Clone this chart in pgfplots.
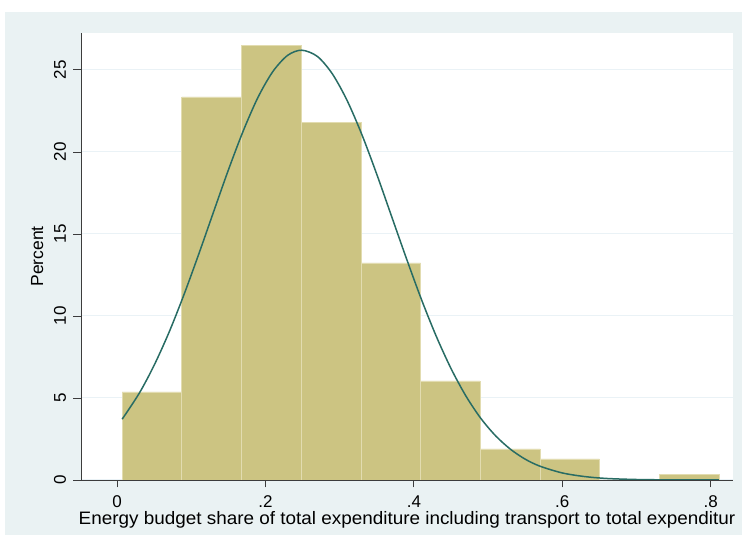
\documentclass[border=0pt]{standalone}
\usepackage{pgfplots}
\pgfplotsset{compat=1.18}
\usepackage{fontspec}
\setmainfont{Liberation Sans}
\definecolor{bgc}{RGB}{234,242,243}
\definecolor{barc}{RGB}{204,196,130}
\definecolor{baredge}{RGB}{226,220,176}
\definecolor{curvec}{RGB}{40,108,100}
\definecolor{gridc}{RGB}{234,242,246}
\definecolor{axc}{RGB}{60,60,60}
\begin{document}
\begin{tikzpicture}
\useasboundingbox (0pt,0pt) rectangle (742pt,545pt);
\fill[bgc] (5pt,10pt) rectangle (742pt,533pt);
\begin{axis}[
  at={(81pt,65pt)}, anchor=south west,
  scale only axis, width=652pt, height=447pt,
  xmin=-0.0485, xmax=0.830, ymin=0, ymax=27.25,
  axis x line*=bottom, axis y line*=left,
  axis line style={axc, line width=0.8pt, -},
  tick align=outside, major tick length=7.5pt,
  tick style={axc, line width=0.8pt},
  xtick={0,0.2,0.4,0.6,0.8}, xticklabels={0,.2,.4,.6,.8},
  ytick={0,5,10,15,20,25}, yticklabels={0,5,10,15,20,25},
  ticklabel style={font=\fontsize{17}{17}\selectfont, text=black},
  yticklabel style={rotate=90, anchor=south},
  yticklabel shift=4pt, xticklabel shift=5pt,
  axis background/.style={fill=white},
  ymajorgrids, grid style={gridc, line width=1pt},
  xlabel={Energy budget share of total expenditure including transport to total expenditur},
  ylabel={Percent},
  every axis x label/.style={at={(axis description cs:0.5,0)}, anchor=center, yshift=-40pt, font=\fontsize{18}{18}\selectfont, xscale=1.05},
  every axis y label/.style={at={(axis description cs:-0.067,0.5)}, anchor=center, rotate=90, font=\fontsize{17.5}{17.5}\selectfont},
]
\addplot[ybar interval, fill=barc, draw=baredge, line width=0.8pt] coordinates {
(0.007,5.37) (0.0874,23.35) (0.168,26.5) (0.248,21.77) (0.329,13.23)
(0.409,6.04) (0.489,1.89) (0.570,1.28) (0.650,0) (0.731,0.35) (0.811,0)
};
\addplot[curvec, line width=1.5pt, smooth] coordinates {
(0.007,3.71) (0.03,5.29) (0.05,6.99) (0.07,8.99) (0.09,11.27) (0.11,13.75)
(0.13,16.33) (0.15,18.89) (0.17,21.27) (0.19,23.33) (0.21,24.90) (0.23,25.89)
(0.249,26.2) (0.27,25.82) (0.29,24.77) (0.31,23.14) (0.33,21.05) (0.35,18.64)
(0.37,16.07) (0.39,13.50) (0.41,11.03) (0.43,8.78) (0.45,6.80) (0.47,5.13)
(0.49,3.77) (0.51,2.70) (0.53,1.88) (0.55,1.27) (0.57,0.84) (0.60,0.43)
(0.63,0.21) (0.66,0.093) (0.70,0.030) (0.75,0.006) (0.811,0.0007)
};
\end{axis}
\end{tikzpicture}
\end{document}
